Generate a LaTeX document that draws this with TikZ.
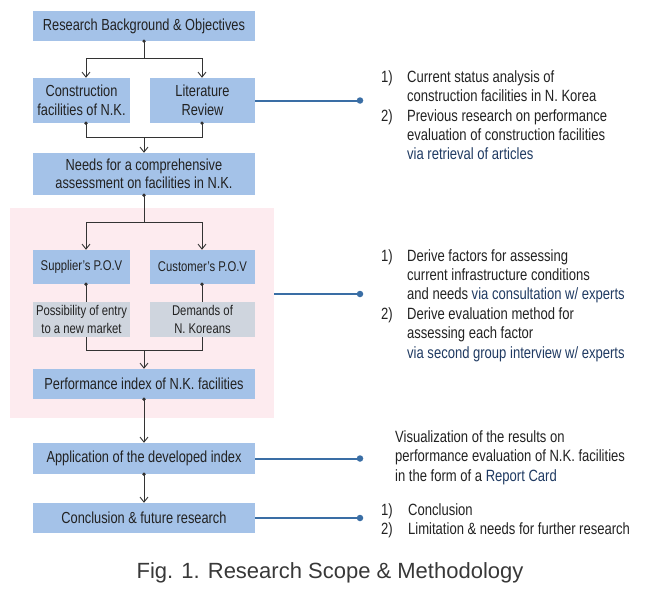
\documentclass[tikz,border=0pt]{standalone}
\usepackage{fontspec}
\setmainfont[FakeStretch=0.8]{Liberation Sans}
\newfontfamily\capfont{Liberation Sans}
\usetikzlibrary{arrows.meta}
\definecolor{boxblue}{HTML}{A4C2E8}
\definecolor{boxgray}{HTML}{CFD5DE}
\definecolor{pinkbg}{HTML}{FDEBEF}
\definecolor{lineblue}{HTML}{3A6EA5}
\definecolor{navy}{HTML}{1F3A62}
\definecolor{txt}{HTML}{222222}
\definecolor{conncol}{HTML}{333333}
\tikzset{
  box/.style={fill=boxblue, inner sep=0pt, align=center, text=txt, font=\fontsize{16}{18.5}\selectfont},
  sbox/.style={box, font=\fontsize{14.1}{17.5}\selectfont},
  gbox/.style={sbox, fill=boxgray},
  conn/.style={draw=conncol, line width=0.9pt},
  arr/.style={conn, -{Straight Barb[length=5pt,width=8pt]}},
  jdot/.style={circle, fill=conncol, inner sep=0pt, minimum size=3.6pt},
  bline/.style={draw=lineblue, line width=2pt},
  bdot/.style={circle, fill=lineblue, inner sep=0pt, minimum size=6.5pt},
  rt/.style={anchor=base west, inner sep=0pt, text=txt, font=\fontsize{16.3}{19.4}\selectfont},
  hl/.style={text=navy}
}
\begin{document}
\begin{tikzpicture}[x=1pt,y=-1pt]
\useasboundingbox (0,0) rectangle (650,589);
% pink region
\node[fill=pinkbg, minimum width=264pt, minimum height=210pt, inner sep=0pt] (pink) at (142,313) {};
% boxes
\node[box, minimum width=222pt, minimum height=30pt] (top) at (144,26) {Research Background \& Objectives};
\node[box, minimum width=97pt, minimum height=45pt] (cons) at (81.5,100.5) {Construction\\facilities of N.K.};
\node[box, minimum width=105pt, minimum height=45pt] (lit) at (202.5,100.5) {Literature\\Review};
\node[box, minimum width=222pt, minimum height=42pt] (needs) at (144,174) {Needs for a comprehensive\\assessment on facilities in N.K.};
\node[sbox, minimum width=97pt, minimum height=34pt] (sup) at (81.5,267) {Supplier’s P.O.V};
\node[sbox, minimum width=105pt, minimum height=34pt] (cus) at (202.5,267) {Customer’s P.O.V};
\node[gbox, minimum width=97pt, minimum height=35pt] (poss) at (81.5,319.5) {Possibility of entry\\to a new market};
\node[gbox, minimum width=105pt, minimum height=35pt] (dem) at (202.5,319.5) {Demands of\\N. Koreans};
\node[box, minimum width=222pt, minimum height=30pt] (perf) at (144,384) {Performance index of N.K. facilities};
\node[box, minimum width=222pt, minimum height=31pt] (app) at (144,458.5) {Application of the developed index};
\node[box, minimum width=222pt, minimum height=30pt] (conc) at (144,518) {Conclusion \& future research};
% junction coordinates
\coordinate (j1) at (144,58); \coordinate (j1l) at (86,58); \coordinate (j1r) at (202,58);
\coordinate (j2) at (144,137); \coordinate (j2l) at (86,137); \coordinate (j2r) at (202,137);
\coordinate (j3) at (144,222); \coordinate (j3l) at (86,222); \coordinate (j3r) at (202,222);
\coordinate (j4) at (144,350); \coordinate (j4l) at (86,350); \coordinate (j4r) at (202,350);
% tree connectors
\draw[conn] (top.south) -- (j1);
\draw[conn] (j1l) -- (j1r);
\draw[arr] (j1l) -- (cons.north -| j1l);
\draw[arr] (j1r) -- (lit.north -| j1r);
\draw[conn] (cons.south -| j2l) -- (j2l) -- (j2r) -- (lit.south -| j2r);
\draw[arr] (j2) -- (needs.north);
\draw[conn] (needs.south) -- (j3);
\draw[conn] (j3l) -- (j3r);
\draw[arr] (j3l) -- (sup.north -| j3l);
\draw[arr] (j3r) -- (cus.north -| j3r);
\draw[conn] (sup.south -| j3l) -- (poss.north -| j3l);
\draw[conn] (cus.south -| j3r) -- (dem.north -| j3r);
\draw[conn] (poss.south -| j4l) -- (j4l) -- (j4r) -- (dem.south -| j4r);
\draw[arr] (j4) -- (perf.north);
\draw[arr] (perf.south) -- (app.north);
\draw[arr] (app.south) -- (conc.north);
% junction dots
\node[jdot] (k1) at (top.south) {};
\node[jdot] (k2) at (cons.south -| j2l) {};
\node[jdot] (k3) at (lit.south -| j2r) {};
\node[jdot] (k4) at (needs.south) {};
\node[jdot] (k5) at (sup.south -| j3l) {};
\node[jdot] (k6) at (cus.south -| j3r) {};
\node[jdot] (k7) at (perf.south) {};
\node[jdot] (k8) at (app.south) {};
% blue leaders
\coordinate (d1) at (360,100.5);
\coordinate (d2) at (360,294);
\coordinate (d3) at (360,458.5);
\coordinate (d4) at (360,518);
\draw[bline] (lit.east) -- (d1);
\draw[bline] (pink.east |- d2) -- (d2);
\draw[bline] (app.east) -- (d3);
\draw[bline] (conc.east) -- (d4);
\node[bdot] (e1) at (d1) {};
\node[bdot] (e2) at (d2) {};
\node[bdot] (e3) at (d3) {};
\node[bdot] (e4) at (d4) {};
% right text block 1
\node[rt] (a1n) at (381,82.5) {1)};
\node[rt] (a1) at (407,82.5) {Current status analysis of};
\node[rt] (a2) at (407,101.8) {construction facilities in N. Korea};
\node[rt] (a3n) at (381,121.1) {2)};
\node[rt] (a3) at (407,121.1) {Previous research on performance};
\node[rt] (a4) at (407,140.4) {evaluation of construction facilities};
\node[rt,hl] (a5) at (407,159.7) {via retrieval of articles};
% right text block 2
\node[rt] (b1n) at (381,261) {1)};
\node[rt] (b1) at (407,261) {Derive factors for assessing};
\node[rt] (b2) at (407,280.4) {current infrastructure conditions};
\node[rt] (b3) at (407,299.8) {and needs \textcolor{navy}{via consultation w/ experts}};
\node[rt] (b4n) at (381,319.2) {2)};
\node[rt] (b4) at (407,319.2) {Derive evaluation method for};
\node[rt] (b5) at (407,338.6) {assessing each factor};
\node[rt,hl] (b6) at (407,358) {via second group interview w/ experts};
% right text block 3
\node[rt] (c1) at (395,442) {Visualization of the results on};
\node[rt] (c2) at (395,461.5) {performance evaluation of N.K. facilities};
\node[rt] (c3) at (395,481) {in the form of a \textcolor{navy}{Report Card}};
% right text block 4
\node[rt] (f1n) at (381,515) {1)};
\node[rt] (f1) at (408,515) {Conclusion};
\node[rt] (f2n) at (381,534) {2)};
\node[rt] (f2) at (408,534) {Limitation \& needs for further research};
% caption
\node[inner sep=0pt, text=txt!90, font=\capfont\fontsize{22}{26}\selectfont] (cap) at (330,573) {Fig. 1. Research Scope \& Methodology};
\end{tikzpicture}
\end{document}
